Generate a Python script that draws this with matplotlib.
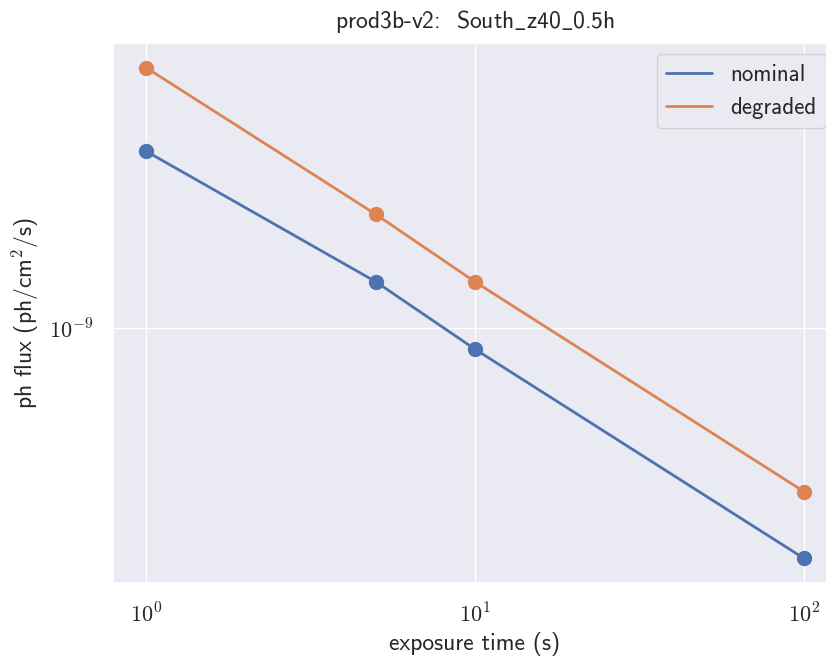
import matplotlib
matplotlib.use("Agg")
import matplotlib.pyplot as plt
from matplotlib.ticker import FuncFormatter, NullFormatter, LogLocator
import numpy as np
import seaborn as sns

sns.set_theme(style="darkgrid")
plt.rcParams['font.family'] = ['cmss10', 'DejaVu Sans']
plt.rcParams['mathtext.fontset'] = 'cm'
plt.rcParams['axes.unicode_minus'] = False

# exposure times (s) and photon flux sensitivities (ph/cm^2/s)
exposure = [1, 5, 10, 100]
flux_nominal = [2.65e-9, 1.29e-9, 8.9e-10, 2.81e-10]
flux_degraded = [4.2e-9, 1.87e-9, 1.29e-9, 4.06e-10]

title = r'prod3b-v2:  South$\_$z40$\_$0.5h'


def pow10(v, pos):
    return r'$10^{%d}$' % int(round(np.log10(v)))


fig = plt.figure(figsize=(8.26, 6.56), dpi=100)
ax = fig.add_axes([113 / 826, 73 / 656, 724 / 826, 540 / 656])

colors = sns.color_palette('deep')
for flux, label, c in [(flux_nominal, 'nominal', colors[0]),
                       (flux_degraded, 'degraded', colors[1])]:
    ax.plot(exposure, flux, color=c, lw=2, label=label)
    ax.plot(exposure, flux, 'o', color=c, markersize=10)

ax.set_xscale('log')
ax.set_yscale('log')
for axis in (ax.xaxis, ax.yaxis):
    axis.set_major_locator(LogLocator(base=10))
    axis.set_major_formatter(FuncFormatter(pow10))
    axis.set_minor_formatter(NullFormatter())
ax.tick_params(labelsize=16, pad=8)
ax.set_xlabel('exposure time (s)', fontsize=17)
ax.set_ylabel('ph flux (ph/cm$^2$/s)', fontsize=17, labelpad=6)
ax.set_title(title, fontsize=17, pad=11)
ax.legend(loc='upper right', fontsize=16.5)

fig.savefig('out.png', dpi=100)
